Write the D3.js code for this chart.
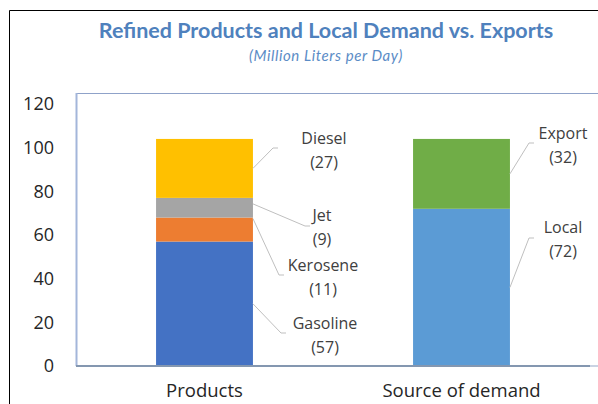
<!DOCTYPE html>
<html>
<head>
<meta charset="utf-8">
<script src="https://cdn.jsdelivr.net/npm/d3@7"></script>
<style>
  body { margin: 0; background: #fff; }
  text { font-family: "Open Sans", sans-serif; }
  .title { font-family: Lato, sans-serif; }
</style>
</head>
<body>
<div id="chart"></div>
<script>
// data
var categories = ["Products", "Source of demand"];
var productNames = ["Gasoline", "Kerosene", "Jet", "Diesel"];
var productValues = [57, 11, 9, 27];
var demandNames = ["Local", "Export"];
var demandValues = [72, 32];
var yTicks = [0, 20, 40, 60, 80, 100, 120];

var colors = {
    Gasoline: "#4472C4", Kerosene: "#ED7D31", Jet: "#A5A5A5", Diesel: "#FFC000",
    Local: "#5B9BD5", Export: "#70AD47"
};

// label centre and leader elbow for each data label
var labelPos = {
    Diesel:   { lx: 324, ly: 138, ex: 273, ey: 148 },
    Jet:      { lx: 322, ly: 215, ex: 305, ey: 226 },
    Kerosene: { lx: 323, ly: 265, ex: 279, ey: 275 },
    Gasoline: { lx: 325, ly: 323, ex: 281, ey: 333 },
    Export:   { lx: 563, ly: 133, ex: 529, ey: 143 },
    Local:    { lx: 563, ly: 227, ex: 529, ey: 238 }
};

var W = 598, H = 404;
var pLeft = 76, pRight = 590, pTop = 93, pBottom = 366;

var svg = d3.select("#chart").append("svg")
    .attr("width", W)
    .attr("height", H);

// outer frame
svg.append("path")
    .attr("d", "M9.5," + H + "V10.5H" + W)
    .style("fill", "none")
    .style("stroke", "#000")
    .style("stroke-width", 1);

// titles
svg.append("text")
    .attr("class", "title")
    .attr("x", 326).attr("y", 38)
    .attr("text-anchor", "middle")
    .style("font-size", "21.5px")
    .style("font-weight", "bold")
    .style("fill", "#4F81BD")
    .text("Refined Products and Local Demand vs. Exports");

svg.append("text")
    .attr("class", "title")
    .attr("x", 326).attr("y", 61)
    .attr("text-anchor", "middle")
    .style("font-size", "15px")
    .style("letter-spacing", "0.6px")
    .style("font-style", "italic")
    .style("fill", "#5B8CC6")
    .text("(Million Liters per Day)");

var xScale = d3.scaleBand()
    .domain(categories)
    .range([pLeft, pRight])
    .paddingInner(0.623)
    .paddingOuter(0.3115);

var yScale = d3.scaleLinear()
    .domain([0, 120])
    .range([pBottom, 104]);

// plot area frame
svg.append("line")
    .attr("x1", pLeft).attr("x2", W)
    .attr("y1", pTop + 0.5).attr("y2", pTop + 0.5)
    .style("stroke", "#8FA2C9")
    .style("stroke-width", 1);
svg.append("line")
    .attr("x1", pLeft + 0.5).attr("x2", pLeft + 0.5)
    .attr("y1", pTop).attr("y2", pBottom)
    .style("stroke", "#A3B6DA")
    .style("stroke-width", 2);

// y tick labels
svg.append("g")
    .selectAll("text")
    .data(yTicks)
    .enter().append("text")
    .attr("x", 54)
    .attr("y", function (d) { return yScale(d); })
    .attr("dy", "0.35em")
    .attr("text-anchor", "end")
    .style("font-size", "18px")
    .style("fill", "#262626")
    .text(function (d) { return d; });

function stack(names, values) {
    var out = [], y0 = 0;
    names.forEach(function (n, i) {
        out.push({ name: n, value: values[i], y0: y0, y1: y0 + values[i] });
        y0 += values[i];
    });
    return out;
}

var groups = [
    { cat: categories[0], segs: stack(productNames, productValues) },
    { cat: categories[1], segs: stack(demandNames, demandValues) }
];

groups.forEach(function (g) {
    var x0 = xScale(g.cat);
    var bw = xScale.bandwidth();

    svg.append("g")
        .selectAll("rect")
        .data(g.segs)
        .enter().append("rect")
        .attr("x", x0)
        .attr("y", function (d) { return yScale(d.y1); })
        .attr("width", bw)
        .attr("height", function (d) { return yScale(d.y0) - yScale(d.y1); })
        .style("fill", function (d) { return colors[d.name]; });

    // leader lines
    svg.append("g")
        .selectAll("path")
        .data(g.segs)
        .enter().append("path")
        .attr("d", function (d) {
            var p = labelPos[d.name];
            var sy;
            if (d.name === "Jet") sy = yScale(d.y1) + 6;
            else if (d.name === "Kerosene") sy = yScale(d.y1) + 1;
            else sy = (yScale(d.y0) + yScale(d.y1)) / 2;
            return "M" + (x0 + bw) + "," + sy + "L" + p.ex + "," + p.ey + "h5";
        })
        .style("fill", "none")
        .style("stroke", "#BFBFBF")
        .style("stroke-width", 1);

    // data labels
    var lab = svg.append("g")
        .selectAll("text")
        .data(g.segs)
        .enter().append("text")
        .attr("text-anchor", "middle")
        .style("font-size", "16px")
        .style("fill", "#404040");
    lab.append("tspan")
        .attr("x", function (d) { return labelPos[d.name].lx; })
        .attr("y", function (d) { return labelPos[d.name].ly; })
        .attr("dy", "0.35em")
        .text(function (d) { return d.name; });
    lab.append("tspan")
        .attr("x", function (d) { return labelPos[d.name].lx; })
        .attr("y", function (d) { return labelPos[d.name].ly + 24; })
        .attr("dy", "0.35em")
        .text(function (d) { return "(" + d.value + ")"; });
});

// x axis line
svg.append("line")
    .attr("x1", pLeft).attr("x2", pRight)
    .attr("y1", pBottom).attr("y2", pBottom)
    .style("stroke", "#8497B0")
    .style("stroke-width", 2);
svg.append("line")
    .attr("x1", pRight).attr("x2", W)
    .attr("y1", pBottom).attr("y2", pBottom)
    .style("stroke", "#C9D3E3")
    .style("stroke-width", 2);

// category labels
svg.append("g")
    .selectAll("text")
    .data(categories)
    .enter().append("text")
    .attr("x", function (d) { return xScale(d) + xScale.bandwidth() / 2; })
    .attr("y", 397)
    .attr("text-anchor", "middle")
    .style("font-size", "18.5px")
    .style("fill", "#262626")
    .text(function (d) { return d; });
</script>
</body>
</html>
